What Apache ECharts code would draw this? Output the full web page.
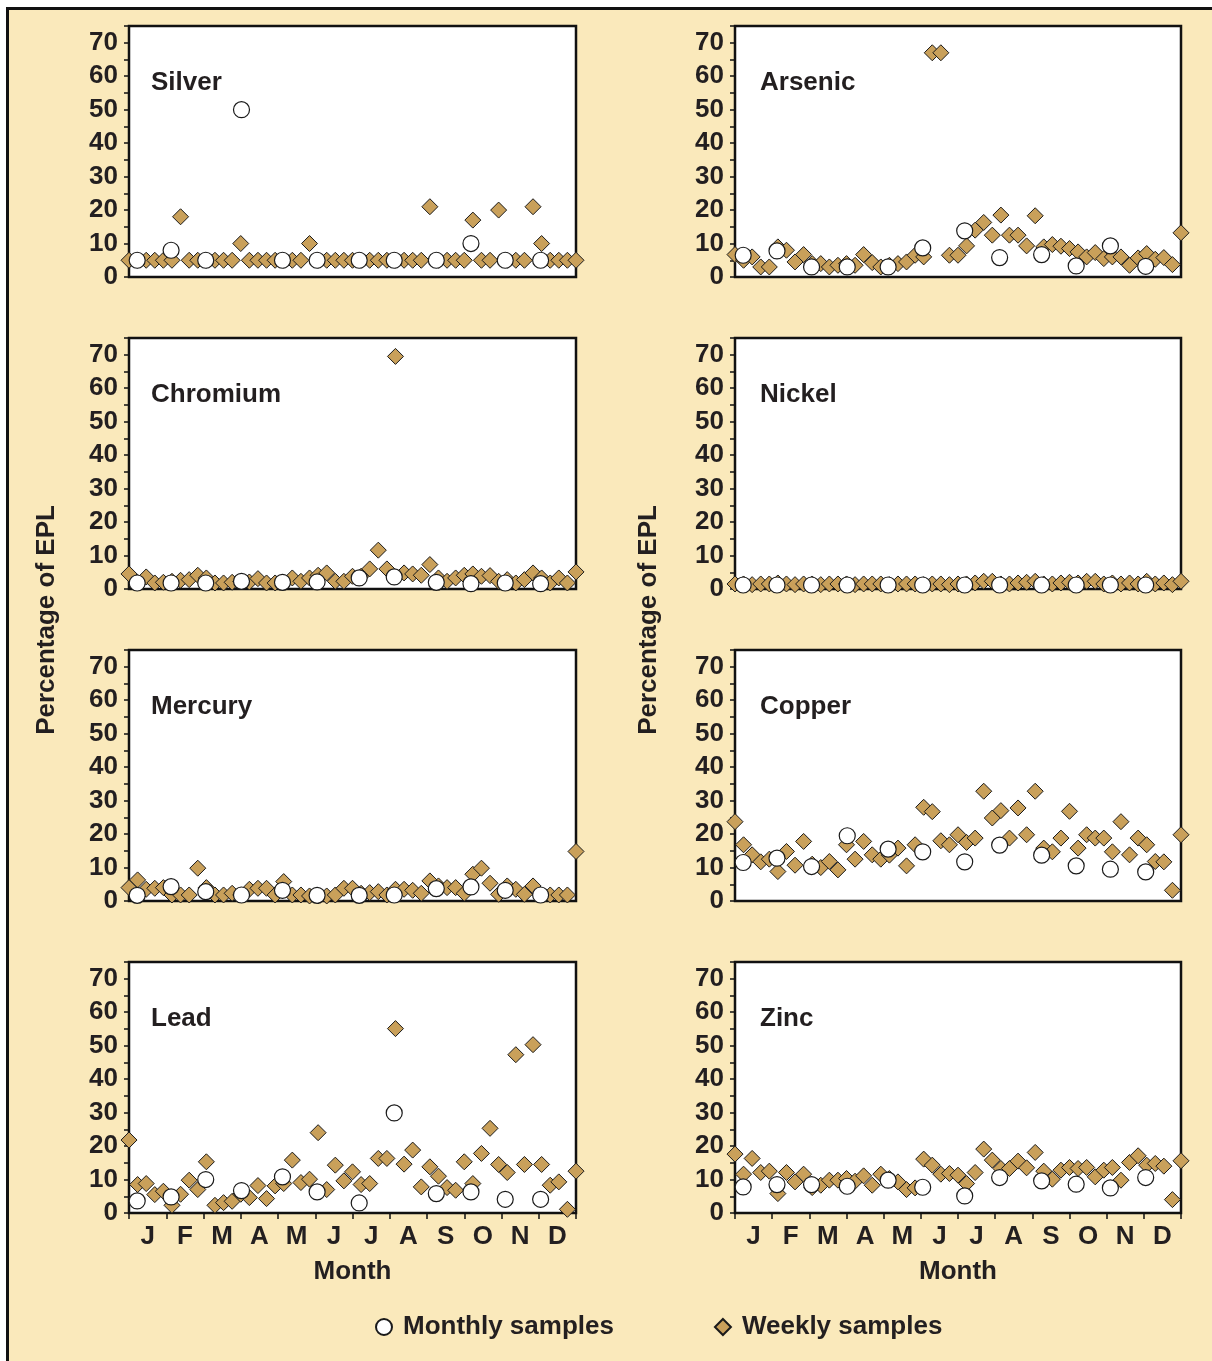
<!DOCTYPE html>
<html>
<head>
<meta charset="utf-8">
<script src="https://cdn.jsdelivr.net/npm/echarts@6/dist/echarts.min.js"></script>
<style>
  html, body { margin: 0; padding: 0; background: #fff; }
  #frame {
    position: absolute; left: 6px; top: 7px; right: 0; bottom: 0;
    border-top: 3px solid #111; border-left: 3px solid #111;
    background: #fae9bb;
  }
  #chart { position: absolute; left: 0; top: 0; width: 1212px; height: 1361px; }
</style>
</head>
<body>
<div id="frame"></div>
<div id="chart"></div>
<script>
const MONTHS = ["J", "F", "M", "A", "M", "J", "J", "A", "S", "O", "N", "D"];
// sampling date of each monthly sample, in months from Jan 1
const MONTHLY_X = [0.22, 1.13, 2.06, 3.02, 4.12, 5.05, 6.18, 7.12, 8.25, 9.18, 10.1, 11.05];

// weekly samples, week 0..52
const silverWeekly = [
  5, 5, 5, 5, 5, 5, 18, 5, 5, 5,
  5, 5, 5, 10, 5, 5, 5, 5, 5, 5,
  5, 10, 5, 5, 5, 5, 5, 5, 5, 5,
  5, 5, 5, 5, 5, 21, 5, 5, 5, 5,
  17, 5, 5, 20, 5, 5, 5, 21, 10, 5,
  5, 5, 5
];
const silverMonthly = [5, 8, 5, 50, 5, 5, 5, 5, 5, 10, 5, 5];

const arsenicWeekly = [
  6.7, 5, 6, 3, 3, 9, 8, 4.5, 6.7, 4,
  4, 3, 3.5, 4, 3.5, 6.7, 4.3, 3, 3.5, 4,
  4.5, 6.5, 6, 67, 67, 6.5, 6.5, 9.3, 14, 16.3,
  12.5, 18.5, 12.5, 12.5, 9.3, 18.3, 9, 9.7, 9.2, 8.5,
  7.5, 6, 7.3, 5.5, 6, 6, 3.5, 5.7, 7, 5.3,
  5.8, 3.7, 13.2
];
const arsenicMonthly = [6.5, 7.8, 3, 3, 3, 8.7, 13.8, 5.8, 6.7, 3.3, 9.3, 3.2];

const chromiumWeekly = [
  4.5, 2, 3.6, 1.8, 2, 2.3, 2.6, 2.8, 4.1, 3.3,
  1.8, 1.8, 2, 2.3, 2.1, 3.1, 1.8, 1.8, 2, 3.3,
  2.3, 3.3, 4.1, 4.8, 2.3, 2.3, 3.8, 3.8, 6, 11.6,
  6, 69.5, 4.8, 4.5, 4.1, 7.3, 3.3, 2.3, 3.3, 4.1,
  4.5, 3.8, 4, 2.3, 2.8, 1.8, 2.8, 4.8, 3.3, 1.8,
  3.3, 1.8, 5.1
];
const chromiumMonthly = [1.8, 1.8, 1.8, 2.3, 2, 2.1, 3.3, 3.6, 2, 1.6, 1.8, 1.6];

const nickelWeekly = [
  1.5, 1.5, 1.3, 1.5, 1.5, 1.8, 1.5, 1.3, 1.5, 1.5,
  1.3, 1.5, 1.5, 1.5, 1.3, 1.5, 1.5, 1.5, 1.3, 1.5,
  1.5, 1.5, 1.3, 1.5, 1.5, 1.3, 1.5, 1.5, 1.8, 2.3,
  2.3, 1.5, 1.5, 1.8, 2, 2.3, 1.5, 1.5, 1.8, 2,
  1.8, 2.3, 2.3, 1.5, 1.8, 1.5, 1.8, 1.5, 2.3, 1.5,
  1.8, 1.3, 2.3
];
const nickelMonthly = [1.2, 1.2, 1.2, 1.2, 1.2, 1.2, 1.2, 1.2, 1.2, 1.2, 1.2, 1.2];

const mercuryWeekly = [
  4, 6.3, 3.5, 3.8, 4, 1.8, 1.8, 1.8, 9.8, 4,
  1.8, 1.8, 2.3, 1.8, 3.5, 3.8, 3.8, 1.8, 5.8, 1.8,
  1.8, 1.5, 1.5, 1.5, 1.8, 3.8, 3.8, 2.3, 2.5, 2.8,
  1.8, 3.5, 3.5, 3.2, 2.3, 6, 4.5, 4, 4, 2.3,
  8, 9.8, 5.3, 2, 4.5, 3.5, 2, 4.5, 1.8, 1.8,
  1.8, 1.8, 14.8
];
const mercuryMonthly = [1.7, 4.3, 2.8, 1.8, 3.2, 1.7, 1.7, 1.8, 3.7, 4.2, 3.2, 1.8];

const copperWeekly = [
  23.7, 16.8, 13.8, 11.7, 12.5, 8.8, 14.8, 10.7, 17.8, 11,
  10, 11.8, 9.3, 16.8, 12.5, 17.8, 13.8, 12.5, 13.7, 15.8,
  10.5, 16.8, 28, 26.7, 18, 16.8, 19.8, 17.5, 18.8, 32.8,
  24.8, 27, 18.8, 27.8, 19.8, 32.8, 15.8, 14.7, 18.8, 26.8,
  15.8, 19.8, 18.8, 18.8, 14.7, 23.7, 13.8, 18.8, 16.8, 11.8,
  11.7, 3.2, 19.8
];
const copperMonthly = [11.5, 12.8, 10.3, 19.5, 15.5, 14.7, 11.7, 16.7, 13.7, 10.5, 9.5, 8.7];

const leadWeekly = [
  21.8, 8.5, 8.8, 5.5, 6.5, 2.3, 5.6, 9.8, 7, 15.3,
  2.3, 3.1, 3.5, 5.6, 4.6, 8.2, 4.3, 8.1, 8.8, 15.8,
  9.1, 10.1, 24, 7, 14.3, 9.6, 12.3, 8.5, 8.8, 16.3,
  16.3, 55.1, 14.6, 18.8, 7.8, 13.8, 11, 7.6, 6.8, 15.3,
  8.8, 17.8, 25.3, 14.5, 12.1, 47.3, 14.5, 50.3, 14.5, 8.3,
  9.3, 1.1, 12.5
];
const leadMonthly = [3.6, 4.8, 10, 6.7, 10.8, 6.3, 3, 29.9, 5.8, 6.3, 4.1, 4.1];

const zincWeekly = [
  17.6, 11.6, 16.3, 12.1, 12.5, 5.8, 12.1, 9.3, 11.6, 7.6,
  8.3, 9.8, 9.8, 10.3, 9.5, 11.1, 8.3, 11.6, 10.3, 9.3,
  7, 7.5, 16.1, 14.3, 11.6, 11.8, 11.3, 8.8, 12.1, 19.1,
  15.8, 13.3, 13.3, 15.5, 13.5, 18.1, 12.5, 10.1, 12.8, 13.6,
  13.3, 13.6, 10.8, 12.8, 13.6, 9.8, 15.1, 17.1, 14.3, 14.8,
  14, 4, 15.6
];
const zincMonthly = [7.8, 8.5, 8.5, 8, 9.8, 7.7, 5.1, 10.6, 9.6, 8.6, 7.5, 10.6];

const PANELS = [
  { name: "Silver", weekly: silverWeekly, monthly: silverMonthly },
  { name: "Arsenic", weekly: arsenicWeekly, monthly: arsenicMonthly },
  { name: "Chromium", weekly: chromiumWeekly, monthly: chromiumMonthly },
  { name: "Nickel", weekly: nickelWeekly, monthly: nickelMonthly },
  { name: "Mercury", weekly: mercuryWeekly, monthly: mercuryMonthly },
  { name: "Copper", weekly: copperWeekly, monthly: copperMonthly },
  { name: "Lead", weekly: leadWeekly, monthly: leadMonthly },
  { name: "Zinc", weekly: zincWeekly, monthly: zincMonthly },
];

const FONT = '"Liberation Sans", Arial, Helvetica, sans-serif';
const INK = "#231f20";
const GOLD = "#c9a05a";
const COL_LEFT = [129, 735];
const COL_W = [447, 446];
const ROW_TOP = [26, 338, 650, 962];
const ROW_H = 251;

const chart = echarts.init(document.getElementById("chart"), null, { renderer: "canvas" });

const grid = [], xAxis = [], yAxis = [], series = [], title = [];

PANELS.forEach((p, k) => {
  const col = k % 2;
  const row = Math.floor(k / 2);
  const bottomRow = row === 3;

  grid.push({
    left: COL_LEFT[col], top: ROW_TOP[row], width: COL_W[col], height: ROW_H,
    show: true, backgroundColor: "#fff", borderColor: "#111", borderWidth: 2.5,
  });

  // monthly samples axis (months), weekly samples axis (weeks), visible month labels
  xAxis.push({ gridIndex: k, type: "value", min: 0, max: 12, show: false, position: "bottom" });
  xAxis.push({ gridIndex: k, type: "value", min: 0, max: 52, show: false, position: "bottom" });
  xAxis.push({
    gridIndex: k, type: "category", data: MONTHS, boundaryGap: true, show: bottomRow,
    position: "bottom", offset: 0,
    axisLine: { show: false },
    axisTick: { show: true, interval: 0, length: 6, lineStyle: { color: "#111", width: 1.5 } },
    axisLabel: { interval: 0, fontSize: 26, fontWeight: "bold", color: INK, fontFamily: FONT, margin: 11 },
    name: "Month", nameLocation: "middle", nameGap: 46,
    nameTextStyle: { fontSize: 26, fontWeight: "bold", color: INK, fontFamily: FONT },
  });

  yAxis.push({
    gridIndex: k, type: "value", min: 0, max: 75, interval: 5, position: "left",
    axisLine: { show: true, lineStyle: { color: "#111", width: 2 } },
    axisTick: { show: true, length: 5, lineStyle: { color: "#111", width: 1.5 } },
    splitLine: { show: false },
    axisLabel: {
      formatter: (v) => (v % 10 === 0 ? String(v) : ""),
      fontSize: 26, fontWeight: "bold", color: INK, fontFamily: FONT, margin: 11,
    },
  });

  series.push({
    type: "scatter", name: "Weekly samples",
    xAxisIndex: 3 * k + 1, yAxisIndex: k,
    data: p.weekly.map((v, i) => [i, v]),
    symbol: "diamond", symbolSize: 16, clip: false, z: 2,
    itemStyle: { color: GOLD, borderColor: "#1a1a1a", borderWidth: 1, opacity: 1 },
  });
  series.push({
    type: "scatter", name: "Monthly samples",
    xAxisIndex: 3 * k, yAxisIndex: k,
    data: MONTHLY_X.map((x, i) => [x, p.monthly[i]]),
    symbol: "circle", symbolSize: 16, clip: false, z: 3,
    itemStyle: { color: "#fff", borderColor: "#1a1a1a", borderWidth: 1.2, opacity: 1 },
  });

  title.push({
    text: p.name, left: COL_LEFT[col] + (col === 0 ? 22 : 25), top: ROW_TOP[row] + 44, padding: 0,
    textStyle: { fontSize: 26, fontWeight: "bold", color: INK, fontFamily: FONT },
  });
});

const option = {
  animation: false,
  backgroundColor: "transparent",
  title,
  grid,
  xAxis,
  yAxis,
  series,
  legend: {
    left: 375, top: 1314, padding: 0, itemGap: 100, itemWidth: 16, itemHeight: 16,
    data: [
      { name: "Monthly samples", icon: "circle" },
      { name: "Weekly samples", icon: "diamond" },
    ],
    textStyle: { fontSize: 26, fontWeight: "bold", color: INK, fontFamily: FONT, padding: [0, 0, 0, 6] },
  },
  graphic: [
    {
      type: "text", x: 47, y: 620, rotation: Math.PI / 2,
      style: { text: "Percentage of EPL", fontSize: 26, fontWeight: "bold", fontFamily: FONT, fill: INK, align: "center", verticalAlign: "middle" },
    },
    {
      type: "text", x: 649, y: 620, rotation: Math.PI / 2,
      style: { text: "Percentage of EPL", fontSize: 26, fontWeight: "bold", fontFamily: FONT, fill: INK, align: "center", verticalAlign: "middle" },
    },
  ],
};

chart.setOption(option);
</script>
</body>
</html>
